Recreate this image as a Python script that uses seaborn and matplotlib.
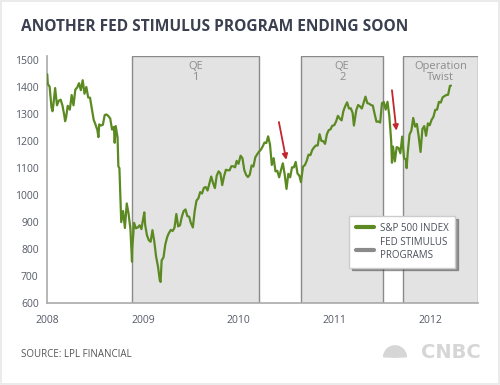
import matplotlib
matplotlib.use("Agg")
import matplotlib.pyplot as plt
import matplotlib.dates as mdates
from matplotlib.lines import Line2D
from matplotlib.patches import Rectangle, Wedge
import seaborn as sns
import pandas as pd

# S&P 500, roughly weekly closes
dates = [
    "2008-01-02", "2008-01-04", "2008-01-11", "2008-01-18", "2008-01-22", "2008-01-25",
    "2008-02-01", "2008-02-08", "2008-02-15", "2008-02-22", "2008-02-29", "2008-03-07",
    "2008-03-10", "2008-03-14", "2008-03-20", "2008-03-28", "2008-04-04", "2008-04-11",
    "2008-04-18", "2008-04-25", "2008-05-02", "2008-05-09", "2008-05-16", "2008-05-23",
    "2008-05-30", "2008-06-06", "2008-06-13", "2008-06-20", "2008-06-27", "2008-07-03",
    "2008-07-11", "2008-07-15", "2008-07-18", "2008-07-25", "2008-08-01", "2008-08-08",
    "2008-08-15", "2008-08-22", "2008-08-29", "2008-09-05", "2008-09-12", "2008-09-15",
    "2008-09-19", "2008-09-26", "2008-09-29", "2008-10-03", "2008-10-10", "2008-10-17",
    "2008-10-24", "2008-10-31", "2008-11-07", "2008-11-14", "2008-11-20", "2008-11-21",
    "2008-11-28", "2008-12-05", "2008-12-12", "2008-12-19", "2008-12-26", "2008-12-31",
    "2009-01-06", "2009-01-09", "2009-01-16", "2009-01-23", "2009-01-30", "2009-02-06",
    "2009-02-13", "2009-02-20", "2009-02-27", "2009-03-06", "2009-03-09", "2009-03-13",
    "2009-03-20", "2009-03-27", "2009-04-03", "2009-04-09", "2009-04-17", "2009-04-24",
    "2009-05-01", "2009-05-08", "2009-05-15", "2009-05-22", "2009-05-29", "2009-06-05",
    "2009-06-12", "2009-06-19", "2009-06-26", "2009-07-02", "2009-07-10", "2009-07-17",
    "2009-07-24", "2009-07-31", "2009-08-07", "2009-08-14", "2009-08-21", "2009-08-28",
    "2009-09-04", "2009-09-11", "2009-09-18", "2009-09-25", "2009-10-02", "2009-10-09",
    "2009-10-16", "2009-10-23", "2009-10-30", "2009-11-06", "2009-11-13", "2009-11-20",
    "2009-11-27", "2009-12-04", "2009-12-11", "2009-12-18", "2009-12-24", "2009-12-31",
    "2010-01-08", "2010-01-15", "2010-01-22", "2010-01-29", "2010-02-05", "2010-02-12",
    "2010-02-19", "2010-02-26", "2010-03-05", "2010-03-12", "2010-03-19", "2010-03-26",
    "2010-04-02", "2010-04-09", "2010-04-16", "2010-04-23", "2010-04-30", "2010-05-07",
    "2010-05-14", "2010-05-21", "2010-05-28", "2010-06-04", "2010-06-11", "2010-06-18",
    "2010-06-25", "2010-07-02", "2010-07-09", "2010-07-16", "2010-07-23", "2010-07-30",
    "2010-08-06", "2010-08-13", "2010-08-20", "2010-08-26", "2010-09-03", "2010-09-10",
    "2010-09-17", "2010-09-24", "2010-10-01", "2010-10-08", "2010-10-15", "2010-10-22",
    "2010-10-29", "2010-11-05", "2010-11-12", "2010-11-19", "2010-11-26", "2010-12-03",
    "2010-12-10", "2010-12-17", "2010-12-23", "2010-12-31",
    "2011-01-07", "2011-01-14", "2011-01-21", "2011-01-28", "2011-02-04", "2011-02-11",
    "2011-02-18", "2011-02-25", "2011-03-04", "2011-03-11", "2011-03-16", "2011-03-25",
    "2011-04-01", "2011-04-08", "2011-04-15", "2011-04-21", "2011-04-29", "2011-05-06",
    "2011-05-13", "2011-05-20", "2011-05-27", "2011-06-03", "2011-06-10", "2011-06-17",
    "2011-06-24", "2011-07-01", "2011-07-08", "2011-07-15", "2011-07-22", "2011-07-29",
    "2011-08-05", "2011-08-08", "2011-08-12", "2011-08-19", "2011-08-26", "2011-09-02",
    "2011-09-09", "2011-09-16", "2011-09-23", "2011-09-30", "2011-10-03", "2011-10-07",
    "2011-10-14", "2011-10-21", "2011-10-28", "2011-11-04", "2011-11-11", "2011-11-18",
    "2011-11-25", "2011-12-02", "2011-12-09", "2011-12-16", "2011-12-23", "2011-12-30",
    "2012-01-06", "2012-01-13", "2012-01-20", "2012-01-27", "2012-02-03", "2012-02-10",
    "2012-02-17", "2012-02-24", "2012-03-02", "2012-03-09", "2012-03-16", "2012-03-20",
]
sp500 = [
    1447, 1411, 1401, 1325, 1310, 1331,
    1396, 1332, 1349, 1353, 1331, 1294,
    1273, 1288, 1330, 1316, 1370, 1332,
    1390, 1398, 1414, 1388, 1425, 1375,
    1400, 1361, 1360, 1318, 1278, 1263,
    1240, 1214, 1261, 1257, 1260, 1296,
    1298, 1292, 1283, 1242, 1252, 1193,
    1255, 1213, 1106, 1099, 899, 940,
    877, 968, 930, 873, 752, 800,
    896, 876, 879, 887, 873, 903,
    935, 890, 850, 832, 826, 869,
    827, 770, 735, 683, 677, 757,
    768, 816, 843, 857, 870, 866,
    878, 929, 883, 887, 919, 940,
    946, 921, 919, 897, 879, 940,
    979, 987, 1010, 1005, 1026, 1029,
    1016, 1042, 1068, 1044, 1025, 1071,
    1087, 1080, 1036, 1069, 1093, 1091,
    1091, 1106, 1106, 1102, 1126, 1115,
    1145, 1136, 1092, 1074, 1066, 1075,
    1109, 1105, 1139, 1150, 1160, 1167,
    1179, 1194, 1192, 1217, 1187, 1111,
    1136, 1087, 1089, 1065, 1092, 1117,
    1076, 1022, 1078, 1065, 1102, 1102,
    1122, 1079, 1071, 1047, 1105, 1110,
    1126, 1149, 1147, 1166, 1176, 1183,
    1183, 1225, 1200, 1199, 1189, 1225,
    1240, 1243, 1256, 1258,
    1272, 1293, 1283, 1276, 1311, 1329,
    1343, 1320, 1321, 1304, 1257, 1314,
    1333, 1328, 1320, 1338, 1364, 1340,
    1338, 1333, 1331, 1300, 1271, 1272,
    1268, 1340, 1344, 1316, 1345, 1292,
    1200, 1119, 1179, 1124, 1177, 1174,
    1154, 1216, 1136, 1131, 1099, 1155,
    1224, 1238, 1285, 1253, 1263, 1216,
    1159, 1244, 1255, 1219, 1265, 1258,
    1278, 1289, 1315, 1316, 1345, 1342,
    1361, 1366, 1370, 1371, 1404, 1405,
]

# Fed stimulus programs
programs = ["QE\n1", "QE\n2", "Operation\nTwist"]
prog_start = ["2008-11-20", "2010-08-27", "2011-09-21"]
prog_end = ["2010-03-18", "2011-07-06", "2012-07-01"]

# arrows: (start date, start value, end date, end value)
arrows = [
    ("2010-06-03", 1270, "2010-07-01", 1130),
    ("2011-08-08", 1388, "2011-08-25", 1238),
]

GREEN = "#5b8a22"
GRAY = "#8a8a8a"

df = pd.DataFrame({"date": pd.to_datetime(dates), "sp500": sp500})

sns.set_style("white")
plt.rcParams["font.family"] = ["Open Sans", "DejaVu Sans"]

fig = plt.figure(figsize=(5, 3.85), dpi=100)
fig.patches.append(Rectangle((0.002, 0.002), 0.996, 0.996, transform=fig.transFigure,
                             fill=False, edgecolor="#e8e8e8", lw=1.2))
ax = fig.add_axes([0.094, 0.2137, 0.862, 0.641])

for lab, s, e in zip(programs, prog_start, prog_end):
    s, e = pd.Timestamp(s), pd.Timestamp(e)
    ax.axvspan(s, e, facecolor="#e3e3e3", edgecolor=GRAY, lw=1, zorder=0)
    mid = s + (e - s) / 2
    ax.text(mid, 1497, lab, ha="center", va="top", fontsize=8, color="#8c8c8c",
            linespacing=1.0)

sns.lineplot(data=df, x="date", y="sp500", ax=ax, color=GREEN, lw=1.6, zorder=3)

for x0, y0, x1, y1 in arrows:
    ax.annotate("", xy=(pd.Timestamp(x1), y1), xytext=(pd.Timestamp(x0), y0),
                arrowprops=dict(arrowstyle="-|>", color="#c1272d", lw=1.3,
                                mutation_scale=8, shrinkA=0, shrinkB=0), zorder=4)

ax.set_xlim(pd.Timestamp("2008-01-01"), pd.Timestamp("2012-07-01"))
ax.set_ylim(600, 1515)
ax.set_yticks(range(600, 1501, 100))
ax.xaxis.set_major_locator(mdates.YearLocator())
ax.xaxis.set_major_formatter(mdates.DateFormatter("%Y"))
ax.set_xlabel("")
ax.set_ylabel("")
ax.tick_params(axis="both", labelsize=7.5, colors="#999999", labelcolor="#555a66",
               length=3, width=1, direction="out", pad=3)
ax.tick_params(axis="x", pad=6)
for side in ["top", "right"]:
    ax.spines[side].set_visible(False)
for side in ["left", "bottom"]:
    ax.spines[side].set_color("#aaaaaa")
    ax.spines[side].set_linewidth(1.2)

handles = [Line2D([], [], color=GREEN, lw=3), Line2D([], [], color=GRAY, lw=3)]
leg = ax.legend(handles, ["S&P 500 INDEX", "FED STIMULUS\nPROGRAMS"],
                loc="upper left", bbox_to_anchor=(0.689, 0.371), fontsize=7,
                frameon=True, fancybox=False, shadow=True, handlelength=1.9,
                handletextpad=0.6, borderpad=0.7, labelspacing=0.35)
leg.get_frame().set_edgecolor("#cccccc")
leg.get_frame().set_facecolor("white")
for t in leg.get_texts():
    t.set_color("#4a4f5c")
leg.set_zorder(5)

fig.text(0.042, 0.93, "ANOTHER FED STIMULUS PROGRAM ENDING SOON", fontsize=11.2,
         fontweight="bold", color="#3b4050", va="center", ha="left")
fig.text(0.042, 0.08, "SOURCE: LPL FINANCIAL", fontsize=7, color="#555555",
         va="center", ha="left")
fig.text(0.962, 0.085, "CNBC", fontsize=14, fontweight="heavy", color="#d6d6d6",
         va="center", ha="right", family="DejaVu Sans")

# small peacock fan next to the logo text
lax = fig.add_axes([0.765, 0.062, 0.05, 0.05])
lax.set_xlim(-1.1, 1.1)
lax.set_ylim(-0.1, 1.1)
lax.set_aspect("equal")
lax.axis("off")
for i in range(6):
    a0 = 180 - i * 30
    lax.add_patch(Wedge((0, 0), 1.0, a0 - 28, a0 - 2, color="#d6d6d6"))

fig.savefig("out.png", dpi=100)
